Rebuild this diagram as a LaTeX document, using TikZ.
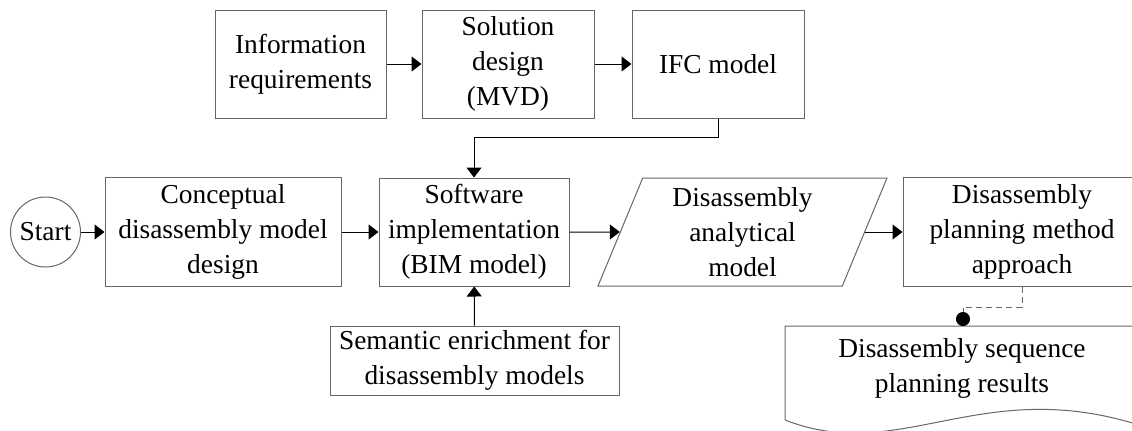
\documentclass[tikz,border=0pt]{standalone}
\usepackage{fontspec}
\setmainfont{Liberation Serif}
\usetikzlibrary{arrows.meta,shapes.geometric}

\begin{document}
\begin{tikzpicture}[x=0.5pt,y=-0.5pt,
  font=\fontsize{13.7}{17.5}\selectfont,
  box/.style={draw=black!60,line width=0.5pt,align=center,inner sep=0pt},
  link/.style={line width=0.5pt,-{Triangle[length=5pt,width=7.5pt]}}]
\useasboundingbox (0,0) rectangle (1132,430);
\clip (0,0) rectangle (1132,430);
% top row
\node[box,minimum width=85.5pt,minimum height=54pt] (info) at (300.5,64) {Information\\requirements};
\node[box,minimum width=86pt,minimum height=54pt] (sol) at (508,64) {Solution\\design\\(MVD)};
\node[box,minimum width=86pt,minimum height=54pt] (ifc) at (718,64) {IFC model};
% middle row
\node[box,circle,minimum size=35pt] (start) at (45.5,232) {Start};
\node[box,minimum width=118pt,minimum height=54.5pt] (concept) at (223,232) {Conceptual\\disassembly model\\design};
\node[box,minimum width=95pt,minimum height=54pt] (soft) at (474,232) {Software\\implementation\\(BIM model)};
\node[box,trapezium,trapezium left angle=63.4,trapezium right angle=116.6,trapezium stretches body,
  minimum width=144.5pt,minimum height=54pt] (para) at (742.5,232) {Disassembly\\analytical\\model};
\node[box,minimum width=119pt,minimum height=54.5pt] (plan) at (1022,232) {Disassembly\\planning method\\approach};
% bottom row
\node[box,minimum width=144.5pt,minimum height=34.5pt] (sem) at (474.5,360.5) {Semantic enrichment for\\disassembly models};
\draw[black!60,line width=0.5pt] (785,420) -- (785,326) -- (1139,326) -- (1139,425)
  .. controls (980,375) and (900,465) .. (785,420);
\node[align=center] (res) at (962,368) {Disassembly sequence\\planning results};
\coordinate (restop) at (963,326);
% connectors
\draw[link] (info) -- (sol);
\draw[link] (sol) -- (ifc);
\draw[link] (ifc.south) -- ++(0,19) -| (soft.north);
\draw[link] (start) -- (concept);
\draw[link] (concept) -- (soft);
\draw[link] (soft) -- (para);
\draw[link] (para) -- (plan);
\draw[link] (sem) -- (soft);
\draw[black!60,line width=0.5pt,dash pattern=on 3pt off 2pt,-{Circle[length=7pt,color=black]}]
  (plan.south) -- ++(0,20) -| (restop);
\end{tikzpicture}
\end{document}
